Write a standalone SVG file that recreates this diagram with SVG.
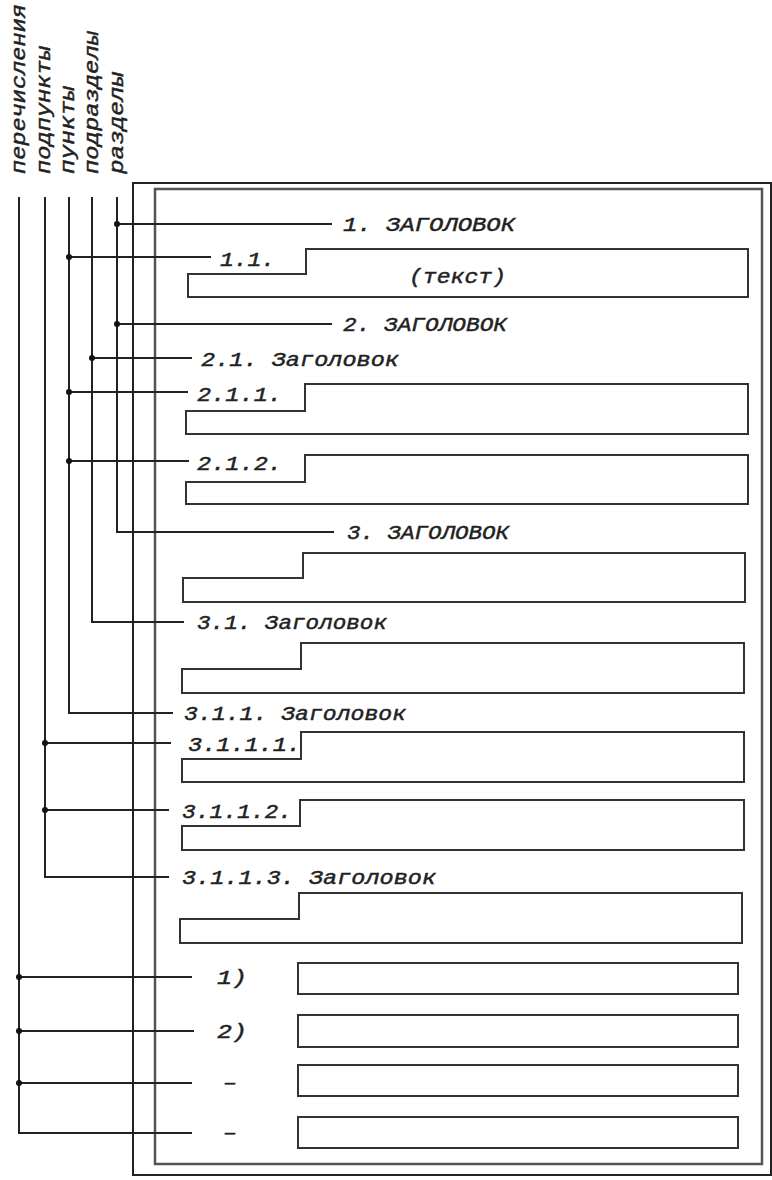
<svg xmlns="http://www.w3.org/2000/svg" width="772" height="1180" viewBox="0 0 772 1180">
<style>
.t{font-family:"Liberation Mono","DejaVu Sans Mono",monospace;font-style:italic;font-size:20px;fill:#222;stroke:#222;stroke-width:0.45}
.c{stroke:#222;stroke-width:2;fill:none}
.b{stroke:#333;stroke-width:2;fill:none}
.d{fill:#111}
</style>
<rect width="772" height="1180" fill="#fff"/>
<g id="frame">
<rect x="133" y="183" width="638" height="992" fill="none" stroke="#222" stroke-width="2"/>
<rect x="155" y="189" width="607" height="975" fill="none" stroke="#555" stroke-width="2.5"/>
</g>
<g id="labels">
<text class="t" transform="translate(25,174) rotate(-90)" textLength="170" lengthAdjust="spacingAndGlyphs">перечисления</text>
<text class="t" transform="translate(50,174) rotate(-90)" textLength="128" lengthAdjust="spacingAndGlyphs">подпункты</text>
<text class="t" transform="translate(74,174) rotate(-90)" textLength="88" lengthAdjust="spacingAndGlyphs">пункты</text>
<text class="t" transform="translate(98,174) rotate(-90)" textLength="143" lengthAdjust="spacingAndGlyphs">подразделы</text>
<text class="t" transform="translate(123,174) rotate(-90)" textLength="102" lengthAdjust="spacingAndGlyphs">разделы</text>
</g>
<g id="connectors">
<path class="c" d="M117,197 V532 H334"/>
<path class="c" d="M92,197 V622 H184"/>
<path class="c" d="M69,197 V713 H173"/>
<path class="c" d="M45,197 V877 H169"/>
<path class="c" d="M19,197 V1133 H192"/>
<path class="c" d="M117,224 H332 M117,324 H332 M92,358 H192 M69,257 H211 M69,392 H188 M69,461 H189 M45,743 H171 M45,810 H169 M19,977 H192 M19,1031 H194 M19,1083 H192"/>
<circle class="d" cx="117" cy="224" r="3"/>
<circle class="d" cx="117" cy="324" r="3"/>
<circle class="d" cx="92" cy="358" r="3"/>
<circle class="d" cx="69" cy="257" r="3"/>
<circle class="d" cx="69" cy="392" r="3"/>
<circle class="d" cx="69" cy="461" r="3"/>
<circle class="d" cx="45" cy="743" r="3"/>
<circle class="d" cx="45" cy="810" r="3"/>
<circle class="d" cx="19" cy="977" r="3"/>
<circle class="d" cx="19" cy="1031" r="3"/>
<circle class="d" cx="19" cy="1083" r="3"/>
</g>
<g id="s1"><text class="t" x="343" y="231" textLength="172" lengthAdjust="spacingAndGlyphs">1. ЗАГОЛОВОК</text></g>
<g id="s1-1">
<text class="t" x="220" y="266" textLength="55" lengthAdjust="spacingAndGlyphs">1.1.</text>
<path class="b" d="M188,297 V274 H306 V249 H748 V297 Z"/>
<text class="t" x="409" y="283" textLength="97" lengthAdjust="spacingAndGlyphs">(текст)</text>
</g>
<g id="s2"><text class="t" x="343" y="331" textLength="164" lengthAdjust="spacingAndGlyphs">2. ЗАГОЛОВОК</text></g>
<g id="s2-1"><text class="t" x="201" y="366" textLength="198" lengthAdjust="spacingAndGlyphs">2.1. Заголовок</text></g>
<g id="s2-1-1">
<text class="t" x="197" y="401" textLength="85" lengthAdjust="spacingAndGlyphs">2.1.1.</text>
<path class="b" d="M186,434 V411 H305 V384 H748 V434 Z"/>
</g>
<g id="s2-1-2">
<text class="t" x="197" y="470" textLength="85" lengthAdjust="spacingAndGlyphs">2.1.2.</text>
<path class="b" d="M186,504 V482 H305 V455 H748 V504 Z"/>
</g>
<g id="s3">
<text class="t" x="347" y="539" textLength="162" lengthAdjust="spacingAndGlyphs">3. ЗАГОЛОВОК</text>
<path class="b" d="M183,602 V578 H303 V553 H745 V602 Z"/>
</g>
<g id="s3-1">
<text class="t" x="197" y="629" textLength="190" lengthAdjust="spacingAndGlyphs">3.1. Заголовок</text>
<path class="b" d="M182,693 V669 H301 V643 H744 V693 Z"/>
</g>
<g id="s3-1-1"><text class="t" x="184" y="720" textLength="222" lengthAdjust="spacingAndGlyphs">3.1.1. Заголовок</text></g>
<g id="s3-1-1-1">
<text class="t" x="188" y="751" textLength="113" lengthAdjust="spacingAndGlyphs">3.1.1.1.</text>
<path class="b" d="M182,782 V759 H301 V732 H744 V782 Z"/>
</g>
<g id="s3-1-1-2">
<text class="t" x="182" y="818" textLength="110" lengthAdjust="spacingAndGlyphs">3.1.1.2.</text>
<path class="b" d="M182,850 V826 H300 V800 H744 V850 Z"/>
</g>
<g id="s3-1-1-3">
<text class="t" x="182" y="884" textLength="254" lengthAdjust="spacingAndGlyphs">3.1.1.3. Заголовок</text>
<path class="b" d="M180,943 V919 H299 V893 H742 V943 Z"/>
</g>
<g id="e1">
<text class="t" x="217" y="984" textLength="30" lengthAdjust="spacingAndGlyphs">1)</text>
<rect class="b" x="298" y="963" width="440" height="31"/>
</g>
<g id="e2">
<text class="t" x="217" y="1038" textLength="30" lengthAdjust="spacingAndGlyphs">2)</text>
<rect class="b" x="298" y="1015" width="440" height="32"/>
</g>
<g id="e3">
<text class="t" x="223" y="1089" textLength="14" lengthAdjust="spacingAndGlyphs">–</text>
<rect class="b" x="298" y="1065" width="440" height="31"/>
</g>
<g id="e4">
<text class="t" x="223" y="1139" textLength="14" lengthAdjust="spacingAndGlyphs">–</text>
<rect class="b" x="298" y="1117" width="440" height="31"/>
</g>
</svg>
